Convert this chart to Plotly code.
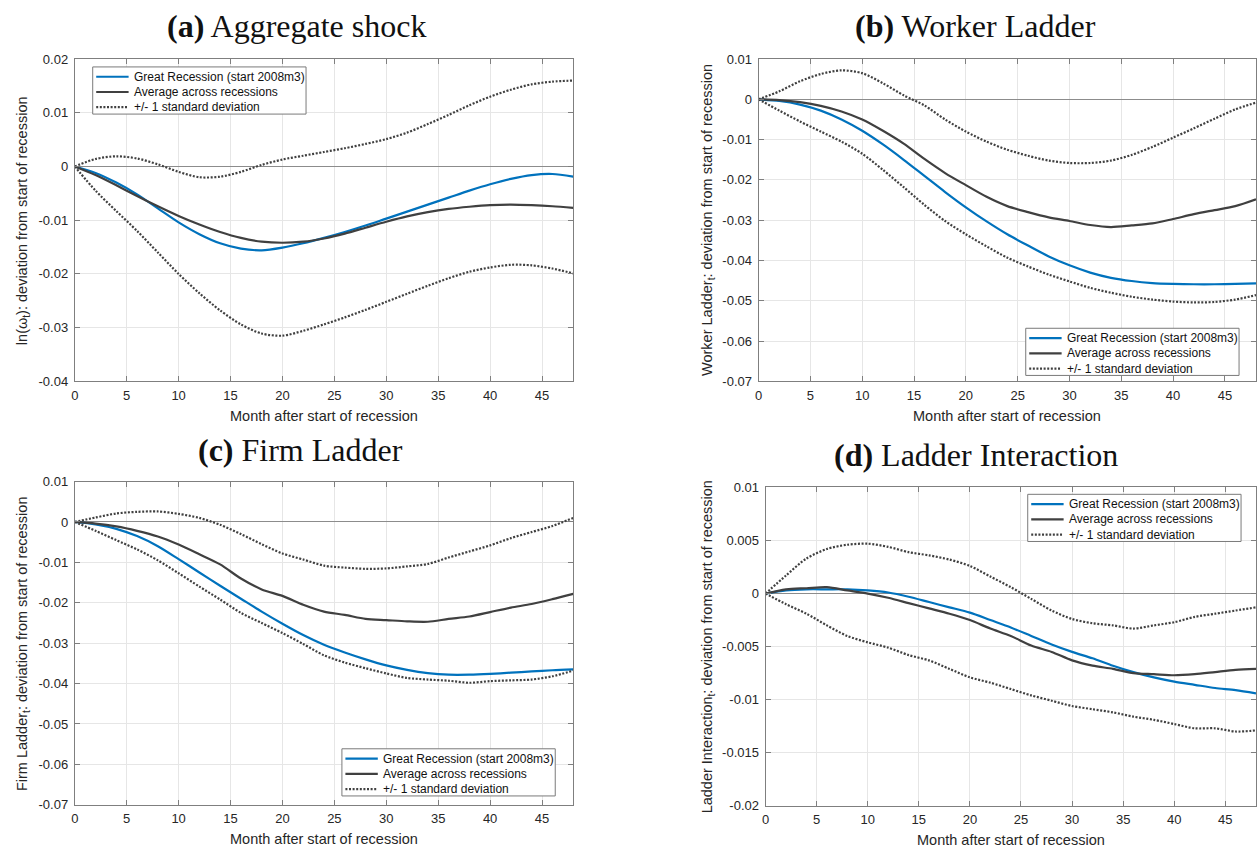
import plotly.graph_objects as go

W, H = 1257, 857

months = [0, 2, 4, 6, 8, 10, 12, 14, 16, 18, 20, 22, 24, 26, 28, 30, 32, 34, 36, 38, 40, 42, 44, 46, 48]

# (a) Aggregate shock
a_great = [0, -0.0012, -0.0030, -0.0052, -0.0078, -0.0104, -0.0126, -0.0143, -0.0153, -0.0156, -0.0151, -0.0143,
           -0.0133, -0.0122, -0.0110, -0.0097, -0.0084, -0.0071, -0.0058, -0.0045, -0.0033, -0.0023, -0.0016, -0.0014, -0.0019]
a_avg = [0, -0.0016, -0.0035, -0.0055, -0.0074, -0.0092, -0.0108, -0.0122, -0.0133, -0.0140, -0.0142, -0.0140,
         -0.0134, -0.0125, -0.0114, -0.0103, -0.0093, -0.0085, -0.0079, -0.0075, -0.0072, -0.0071, -0.0072, -0.0074, -0.0077]
a_up = [0, 0.0014, 0.0019, 0.0015, 0.0004, -0.0010, -0.0020, -0.0019, -0.0010, 0.0003, 0.0013, 0.0020,
        0.0027, 0.0034, 0.0042, 0.0051, 0.0063, 0.0079, 0.0096, 0.0114, 0.0130, 0.0143, 0.0153, 0.0158, 0.0160]
a_lo = [0, -0.0045, -0.0083, -0.0120, -0.0160, -0.0200, -0.0236, -0.0268, -0.0294, -0.0311, -0.0315, -0.0306,
        -0.0294, -0.0281, -0.0267, -0.0252, -0.0237, -0.0222, -0.0208, -0.0196, -0.0188, -0.0183, -0.0184, -0.0190, -0.0199]

# (b) Worker Ladder
b_great = [0, -0.0004, -0.0013, -0.0028, -0.0050, -0.0078, -0.0112, -0.0150, -0.0190, -0.0230, -0.0268, -0.0303,
           -0.0335, -0.0363, -0.0390, -0.0412, -0.0430, -0.0443, -0.0451, -0.0456, -0.0458, -0.0459, -0.0459, -0.0458, -0.0457]
b_avg = [0, -0.0002, -0.0007, -0.0016, -0.0030, -0.0050, -0.0078, -0.0110, -0.0148, -0.0183, -0.0213, -0.0242,
         -0.0265, -0.0280, -0.0293, -0.0302, -0.0312, -0.0317, -0.0313, -0.0308, -0.0297, -0.0285, -0.0275, -0.0265, -0.0248]
b_up = [0, 0.0020, 0.0045, 0.0063, 0.0072, 0.0065, 0.0040, 0.0010, -0.0015, -0.0050, -0.0080, -0.0105,
        -0.0125, -0.0140, -0.0152, -0.0158, -0.0158, -0.0152, -0.0138, -0.0118, -0.0095, -0.0072, -0.0048, -0.0025, -0.0008]
b_lo = [0, -0.0028, -0.0055, -0.0080, -0.0105, -0.0135, -0.0175, -0.0218, -0.0262, -0.0302, -0.0335, -0.0365,
        -0.0393, -0.0415, -0.0435, -0.0452, -0.0468, -0.0480, -0.0490, -0.0497, -0.0502, -0.0504, -0.0503, -0.0497, -0.0486]

# (c) Firm Ladder
c_great = [0, -0.0006, -0.0017, -0.0035, -0.0060, -0.0092, -0.0125, -0.0158, -0.0190, -0.0222, -0.0252, -0.0280,
           -0.0304, -0.0323, -0.0340, -0.0355, -0.0366, -0.0374, -0.0378, -0.0378, -0.0376, -0.0373, -0.0370, -0.0367, -0.0365]
c_avg = [0, -0.0004, -0.0011, -0.0022, -0.0036, -0.0056, -0.0080, -0.0105, -0.0140, -0.0167, -0.0183, -0.0205,
         -0.0222, -0.0230, -0.0240, -0.0243, -0.0246, -0.0247, -0.0240, -0.0234, -0.0223, -0.0212, -0.0203, -0.0191, -0.0178]
c_up = [0, 0.0011, 0.0021, 0.0025, 0.0026, 0.0020, 0.0010, -0.0007, -0.0030, -0.0055, -0.0078, -0.0093,
        -0.0108, -0.0113, -0.0116, -0.0115, -0.0110, -0.0104, -0.0088, -0.0073, -0.0058, -0.0040, -0.0025, -0.0010, 0.0010]
c_lo = [0, -0.0022, -0.0045, -0.0068, -0.0095, -0.0127, -0.0160, -0.0192, -0.0225, -0.0250, -0.0275, -0.0302,
        -0.0330, -0.0348, -0.0362, -0.0375, -0.0386, -0.0390, -0.0393, -0.0398, -0.0394, -0.0392, -0.0390, -0.0382, -0.0368]

# (d) Ladder Interaction
d_great = [0, 0.0003, 0.0004, 0.0004, 0.0004, 0.0003, 0.0001, -0.0003, -0.0008, -0.0013, -0.0018, -0.0025,
           -0.0032, -0.0040, -0.0048, -0.0055, -0.0061, -0.0068, -0.0074, -0.0079, -0.0083, -0.0086, -0.0089, -0.0091, -0.0094]
d_avg = [0, 0.0004, 0.0005, 0.0006, 0.0003, 0.0000, -0.0004, -0.0009, -0.0014, -0.0019, -0.0025, -0.0033,
         -0.0040, -0.0049, -0.0055, -0.0063, -0.0068, -0.0071, -0.0075, -0.0076, -0.0077, -0.0076, -0.0074, -0.0072, -0.0071]
d_up = [0, 0.0017, 0.0033, 0.0042, 0.0046, 0.0047, 0.0044, 0.0039, 0.0036, 0.0032, 0.0026, 0.0016,
        0.0006, -0.0005, -0.0016, -0.0024, -0.0028, -0.0030, -0.0033, -0.0030, -0.0027, -0.0022, -0.0019, -0.0016, -0.0013]
d_lo = [0, -0.0010, -0.0019, -0.0030, -0.0040, -0.0046, -0.0051, -0.0058, -0.0063, -0.0071, -0.0079, -0.0084,
        -0.0090, -0.0096, -0.0101, -0.0106, -0.0109, -0.0112, -0.0116, -0.0119, -0.0123, -0.0127, -0.0127, -0.0130, -0.0129]

series_names = ["Great Recession (start 2008m3)", "Average across recessions", "+/- 1 standard deviation"]

x_ticks = [0, 5, 10, 15, 20, 25, 30, 35, 40, 45]
y_ticks_a = [-0.04, -0.03, -0.02, -0.01, 0, 0.01, 0.02]
y_labels_a = ["-0.04", "-0.03", "-0.02", "-0.01", "0", "0.01", "0.02"]
y_ticks_bc = [-0.07, -0.06, -0.05, -0.04, -0.03, -0.02, -0.01, 0, 0.01]
y_labels_bc = ["-0.07", "-0.06", "-0.05", "-0.04", "-0.03", "-0.02", "-0.01", "0", "0.01"]
y_ticks_d = [-0.02, -0.015, -0.01, -0.005, 0, 0.005, 0.01]
y_labels_d = ["-0.02", "-0.015", "-0.01", "-0.005", "0", "0.005", "0.01"]

titles = ["<b>(a)</b> Aggregate shock", "<b>(b)</b> Worker Ladder",
          "<b>(c)</b> Firm Ladder", "<b>(d)</b> Ladder Interaction"]
ylabels = ["ln(ω<sub>t</sub>): deviation from start of recession",
           "Worker Ladder<sub>t</sub>: deviation from start of recession",
           "Firm Ladder<sub>t</sub>: deviation from start of recession",
           "Ladder Interaction<sub>t</sub>: deviation from start of recession"]
xlabel = "Month after start of recession"

BLUE = "#0072BD"
DARK = "#404040"
AX = "#7f7f7f"
TXT = "#262626"
FONT = "Liberation Sans, Arial, sans-serif"
DOT = "2px,1.6px"

def px(v):
    return v / W

def py(v):
    return 1 - v / H

# panel geometry in pixels: left, right, top, bottom
panels = [
    dict(l=71, r=571, t=53, b=381, yr=[-0.04, 0.02], yt=y_ticks_a, yl=y_labels_a,
         data=(a_great, a_avg, a_up, a_lo), leg=(89, 61), title=(293, 19), ylab=19),
    dict(l=757, r=1256, t=53, b=381, yr=[-0.07, 0.01], yt=y_ticks_bc, yl=y_labels_bc,
         data=(b_great, b_avg, b_up, b_lo), leg=(1025, 327), title=(975, 19), ylab=706),
    dict(l=71, r=571, t=483, b=812, yr=[-0.07, 0.01], yt=y_ticks_bc, yl=y_labels_bc,
         data=(c_great, c_avg, c_up, c_lo), leg=(339, 755), title=(297, 451), ylab=19),
    dict(l=764, r=1256, t=489, b=813, yr=[-0.02, 0.01], yt=y_ticks_d, yl=y_labels_d,
         data=(d_great, d_avg, d_up, d_lo), leg=(1027, 496), title=(975, 456), ylab=706),
]

fig = go.Figure()
layout = dict(width=W, height=H, margin=dict(l=0, r=0, t=0, b=0),
              paper_bgcolor="white", plot_bgcolor="white", showlegend=False,
              font=dict(family=FONT, size=13, color=TXT), annotations=[], shapes=[])

legend_styles = [dict(color=BLUE, width=2.2), dict(color=DARK, width=2.2),
                 dict(color=DARK, width=2.2, dash=DOT)]

for i, p in enumerate(panels):
    k = "" if i == 0 else str(i + 1)
    xa, ya = "x" + k, "y" + k
    great, avg, up, lo = p["data"]
    styles = [
        (great, series_names[0], legend_styles[0]),
        (avg, series_names[1], legend_styles[1]),
        (up, series_names[2], legend_styles[2]),
        (lo, series_names[2], legend_styles[2]),
    ]
    for ys, nm, ln in styles:
        ln = dict(ln, shape="spline", smoothing=0.8)
        fig.add_trace(go.Scatter(x=months, y=ys, mode="lines", name=nm, line=ln,
                                 showlegend=False, xaxis=xa, yaxis=ya, hoverinfo="skip"))
    common = dict(showline=True, linecolor=AX, linewidth=1, mirror="ticks",
                  ticks="inside", ticklen=5, tickcolor=AX, tickwidth=1,
                  showgrid=True, gridcolor="#e6e6e6", gridwidth=1,
                  tickfont=dict(family=FONT, size=13, color=TXT))
    layout["xaxis" + k] = dict(common, domain=[px(p["l"]), px(p["r"])], range=[0, 48],
                               tickvals=x_ticks, ticktext=[str(v) for v in x_ticks],
                               zeroline=False, anchor=ya, ticklabelstandoff=2)
    layout["yaxis" + k] = dict(common, domain=[py(p["b"]), py(p["t"])], range=p["yr"],
                               tickvals=p["yt"], ticktext=p["yl"], anchor=xa,
                               zeroline=True, zerolinecolor="#8c8c8c", zerolinewidth=1,
                               ticklabelstandoff=3)
    # subfigure caption
    layout["annotations"].append(dict(text=titles[i], x=px(p["title"][0]), y=py(p["title"][1]),
                                      xref="paper", yref="paper", showarrow=False,
                                      xanchor="center", yanchor="middle",
                                      font=dict(family="Liberation Serif, serif", size=32, color="#111111")))
    layout["annotations"].append(dict(text=ylabels[i], x=px(p["ylab"]), y=py((p["t"] + p["b"]) / 2),
                                      xref="paper", yref="paper", showarrow=False, textangle=-90,
                                      xanchor="center", yanchor="middle",
                                      font=dict(family=FONT, size=14.5, color=TXT)))
    layout["annotations"].append(dict(text=xlabel, x=px((p["l"] + p["r"]) / 2), y=py(p["b"] + 35),
                                      xref="paper", yref="paper", showarrow=False,
                                      xanchor="center", yanchor="middle",
                                      font=dict(family=FONT, size=14.5, color=TXT)))
    # legend box (drawn by hand, MATLAB style compact rows)
    lx, lt = p["leg"]
    layout["shapes"].append(dict(type="rect", xref="paper", yref="paper",
                                 x0=px(lx), x1=px(lx + 214), y0=py(lt + 48), y1=py(lt),
                                 line=dict(color="#7a7a7a", width=1), fillcolor="white", layer="above"))
    for j, nm in enumerate(series_names):
        ry = lt + 10 + 15.5 * j
        st = legend_styles[j]
        layout["shapes"].append(dict(type="line", xref="paper", yref="paper",
                                     x0=px(lx + 3.5), x1=px(lx + 36), y0=py(ry), y1=py(ry),
                                     line=dict(color=st["color"], width=st["width"],
                                               dash=st.get("dash", "solid")), layer="above"))
        layout["annotations"].append(dict(text=nm, x=px(lx + 39), y=py(ry), xref="paper", yref="paper",
                                          showarrow=False, xanchor="left", yanchor="middle",
                                          font=dict(family=FONT, size=12, color="#111111")))

fig.update_layout(**layout)
fig.write_html("out.html")
